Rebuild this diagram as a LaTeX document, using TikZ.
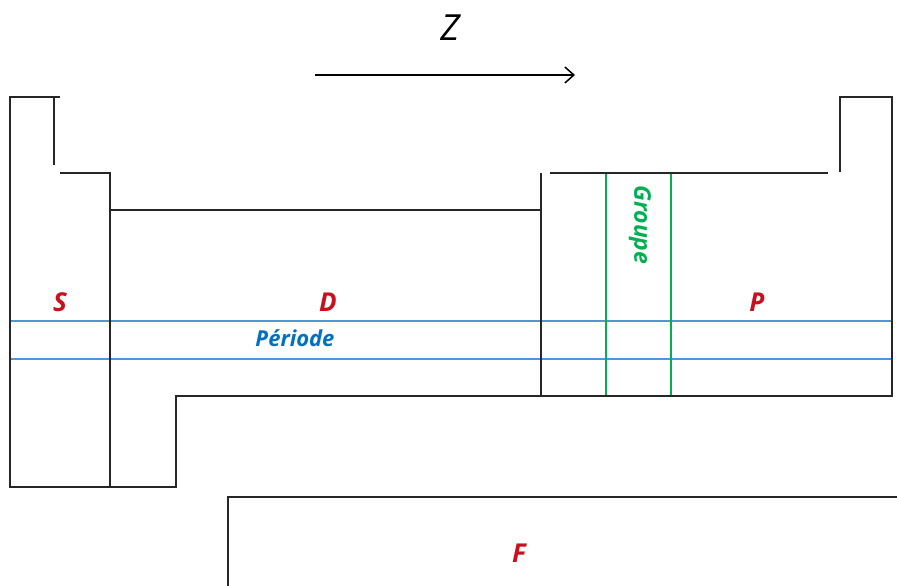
\documentclass[tikz,border=0pt]{standalone}
\usepackage{fontspec}
\setmainfont{Open Sans}
\usetikzlibrary{arrows.meta}
\definecolor{lblred}{RGB}{200,16,30}
\definecolor{lblblue}{RGB}{0,112,192}
\definecolor{lineblue}{RGB}{80,150,215}
\definecolor{linegreen}{RGB}{0,176,80}
\tikzset{
  frame/.style={draw=black!85, line width=1.7pt},
  period/.style={draw=lineblue, line width=1.7pt},
  group/.style={draw=linegreen, line width=1.5pt},
  blocklabel/.style={text=lblred, font=\fontsize{26}{28}\selectfont\bfseries\itshape},
}
\begin{document}
\begin{tikzpicture}[x=1pt,y=-1pt]
\useasboundingbox (0,0) rectangle (897,586);
% Z axis
\node (zlabel) at (450,28) {\fontsize{36}{38}\selectfont\itshape Z};
\coordinate (za) at (315,75);
\coordinate (zb) at (575,75);
\draw[line width=1.5pt, -{Straight Barb[length=9pt,width=16pt]}] (za) -- (zb);
% periods (blue) and groups (green)
\draw[period] (10,321) -- (892,321);
\draw[period] (10,359) -- (892,359);
\draw[group] (606,173) -- (606,396);
\draw[group] (671,173) -- (671,396);
% frame
\draw[frame] (54,165) -- (54,97) -- (10,97) -- (10,487) -- (176,487) -- (176,396) -- (892,396) -- (892,97) -- (840,97) -- (840,172);
\draw[frame] (10,97) -- (60,97);
\draw[frame] (60,173) -- (110,173) -- (110,487);
\draw[frame] (110,210) -- (541,210);
\draw[frame] (541,173) -- (541,396);
\draw[frame] (550,173) -- (828,173);
\draw[frame] (228,586) -- (228,497) -- (897,497);
% labels
\node[blocklabel] (s) at (60,302) {S};
\node[blocklabel] (d) at (328,302) {D};
\node[blocklabel] (p) at (757,302) {P};
\node[blocklabel] (f) at (519,553) {F};
\node[text=lblblue, font=\fontsize{22}{24}\selectfont\bfseries\itshape] (per) at (295,338) {Période};
\node[text=linegreen, font=\fontsize{23}{25}\selectfont\bfseries\itshape, rotate=-90] (grp) at (640,225) {Groupe};
\end{tikzpicture}
\end{document}
